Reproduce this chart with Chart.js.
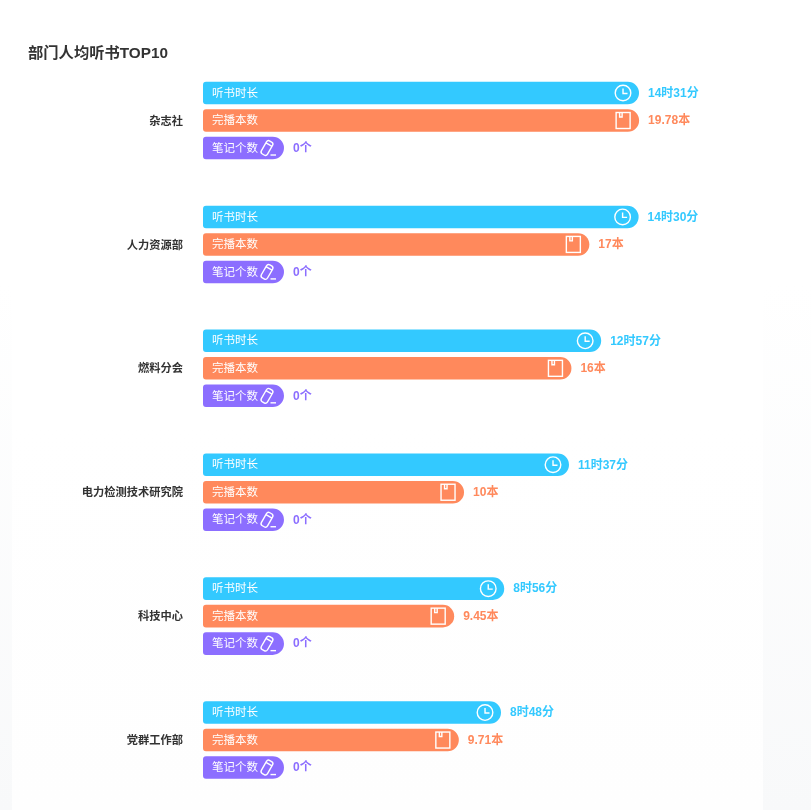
<!DOCTYPE html>
<html>
<head>
<meta charset="utf-8">
<title>部门人均听书TOP10</title>
<script src="https://cdn.jsdelivr.net/npm/chart.js@4/dist/chart.umd.min.js"></script>
<style>
  html, body { margin: 0; padding: 0; height: 810px; overflow: hidden; }
  body { background: linear-gradient(#ffffff 0, #ffffff 35%, #f8f9fa 100%); position: relative; }
  #panel { position: absolute; left: 12px; top: 30px; width: 751px; height: 780px; background: linear-gradient(#ffffff 0, #ffffff 50%, #fefefe 100%); }
  #chart { position: absolute; left: 0; top: 0; }
</style>
</head>
<body>
<div id="panel"></div>
<canvas id="chart" width="811" height="810"></canvas>
<script>
const categories = ['杂志社', '人力资源部', '燃料分会', '电力检测技术研究院', '科技中心', '党群工作部'];
const seriesNames = ['听书时长', '完播本数', '笔记个数'];
const listenMinutes = [871, 870, 777, 697, 536, 528];
const finishedBooks = [19.78, 17, 16, 10, 9.45, 9.71];
const noteCounts = [0, 0, 0, 0, 0, 0];
const seriesColors = ['#33c9ff', '#ff895c', '#8c6eff'];

const FONT = '"Liberation Sans", "Noto Sans CJK SC", sans-serif';
const radius = { topLeft: 3, bottomLeft: 3, topRight: 11.5, bottomRight: 11.5 };

function formatValue(seriesIndex, value) {
  if (seriesIndex === 0) return Math.floor(value / 60) + '时' + (value % 60) + '分';
  if (seriesIndex === 1) return value + '本';
  return value + '个';
}

function drawClock(ctx, x, y) {
  ctx.beginPath();
  ctx.arc(x, y, 7.8, 0, Math.PI * 2);
  ctx.moveTo(x, y - 4.5);
  ctx.lineTo(x, y + 0.5);
  ctx.lineTo(x + 4.5, y + 0.5);
  ctx.stroke();
}

function drawBook(ctx, x, y) {
  ctx.strokeRect(x - 7, y - 8, 14, 16);
  ctx.beginPath();
  ctx.moveTo(x - 3.5, y - 8);
  ctx.lineTo(x - 3.5, y - 3.5);
  ctx.lineTo(x - 1, y - 3.5);
  ctx.lineTo(x - 1, y - 8);
  ctx.stroke();
}

function drawPencil(ctx, x, y) {
  ctx.save();
  ctx.translate(x - 2, y);
  ctx.rotate(Math.PI / 6);
  ctx.beginPath();
  ctx.roundRect(-3.5, -7.5, 7, 15, 2.5);
  ctx.moveTo(-3.5, -4);
  ctx.lineTo(3.5, -4);
  ctx.stroke();
  ctx.restore();
  ctx.beginPath();
  ctx.moveTo(x + 1.5, y + 7);
  ctx.lineTo(x + 7, y + 7);
  ctx.stroke();
}

const iconDrawers = [drawClock, drawBook, drawPencil];
const iconOffsets = [16, 16, 15];

// 柱内文字、图标和柱尾数值
const barDecorations = {
  id: 'barDecorations',
  afterDatasetsDraw(chart) {
    const ctx = chart.ctx;
    ctx.save();
    ctx.textBaseline = 'middle';
    chart.data.datasets.forEach((dataset, i) => {
      chart.getDatasetMeta(i).data.forEach((bar, j) => {
        ctx.fillStyle = '#ffffff';
        ctx.strokeStyle = '#ffffff';
        ctx.lineWidth = 1.4;
        ctx.textAlign = 'left';
        ctx.font = '11.5px ' + FONT;
        ctx.fillText(seriesNames[i], bar.base + 9, bar.y + 0.5);
        iconDrawers[i](ctx, bar.x - iconOffsets[i], bar.y);
        ctx.fillStyle = dataset.backgroundColor;
        ctx.font = 'bold 12px ' + FONT;
        ctx.fillText(formatValue(i, dataset.data[j]), bar.x + 9, bar.y + 0.5);
      });
    });
    ctx.restore();
  }
};

function hiddenAxis(min, max) {
  return { type: 'linear', display: false, min: min, max: max };
}

new Chart(document.getElementById('chart').getContext('2d'), {
  type: 'bar',
  plugins: [barDecorations],
  data: {
    labels: categories,
    datasets: [
      { label: seriesNames[0], data: listenMinutes, xAxisID: 'xTime', base: -212.8, backgroundColor: seriesColors[0] },
      { label: seriesNames[1], data: finishedBooks, xAxisID: 'xBooks', base: -4.581, backgroundColor: seriesColors[1] },
      { label: seriesNames[2], data: noteCounts, xAxisID: 'xNotes', base: -1, backgroundColor: seriesColors[2] }
    ]
  },
  options: {
    indexAxis: 'y',
    responsive: false,
    animation: false,
    layout: { padding: { left: 28, right: 48, top: 48, bottom: 8 } },
    datasets: {
      bar: { categoryPercentage: 0.666, barPercentage: 0.82, borderRadius: radius, borderSkipped: false }
    },
    plugins: {
      legend: { display: false },
      title: {
        display: true,
        text: '部门人均听书TOP10',
        align: 'start',
        color: '#333333',
        padding: 0,
        font: { family: FONT, size: 15.3, weight: 'bold', lineHeight: 0.69 }
      }
    },
    scales: {
      xTime: hiddenAxis(-212.8, 1179.2),
      xBooks: hiddenAxis(-4.581, 26.7),
      xNotes: hiddenAxis(-1, 5.914),
      y: {
        // 刻度文字与柱子的间距用 tickLength，padding 会压缩纵向高度
        grid: { display: false, drawTicks: true, tickLength: 20 },
        border: { display: false },
        afterFit(scale) { scale.width = 175; },
        ticks: {
          padding: 0,
          labelOffset: 1,
          color: '#333333',
          font: { family: FONT, size: 11.25, weight: 'bold' }
        }
      }
    }
  }
});
</script>
</body>
</html>
